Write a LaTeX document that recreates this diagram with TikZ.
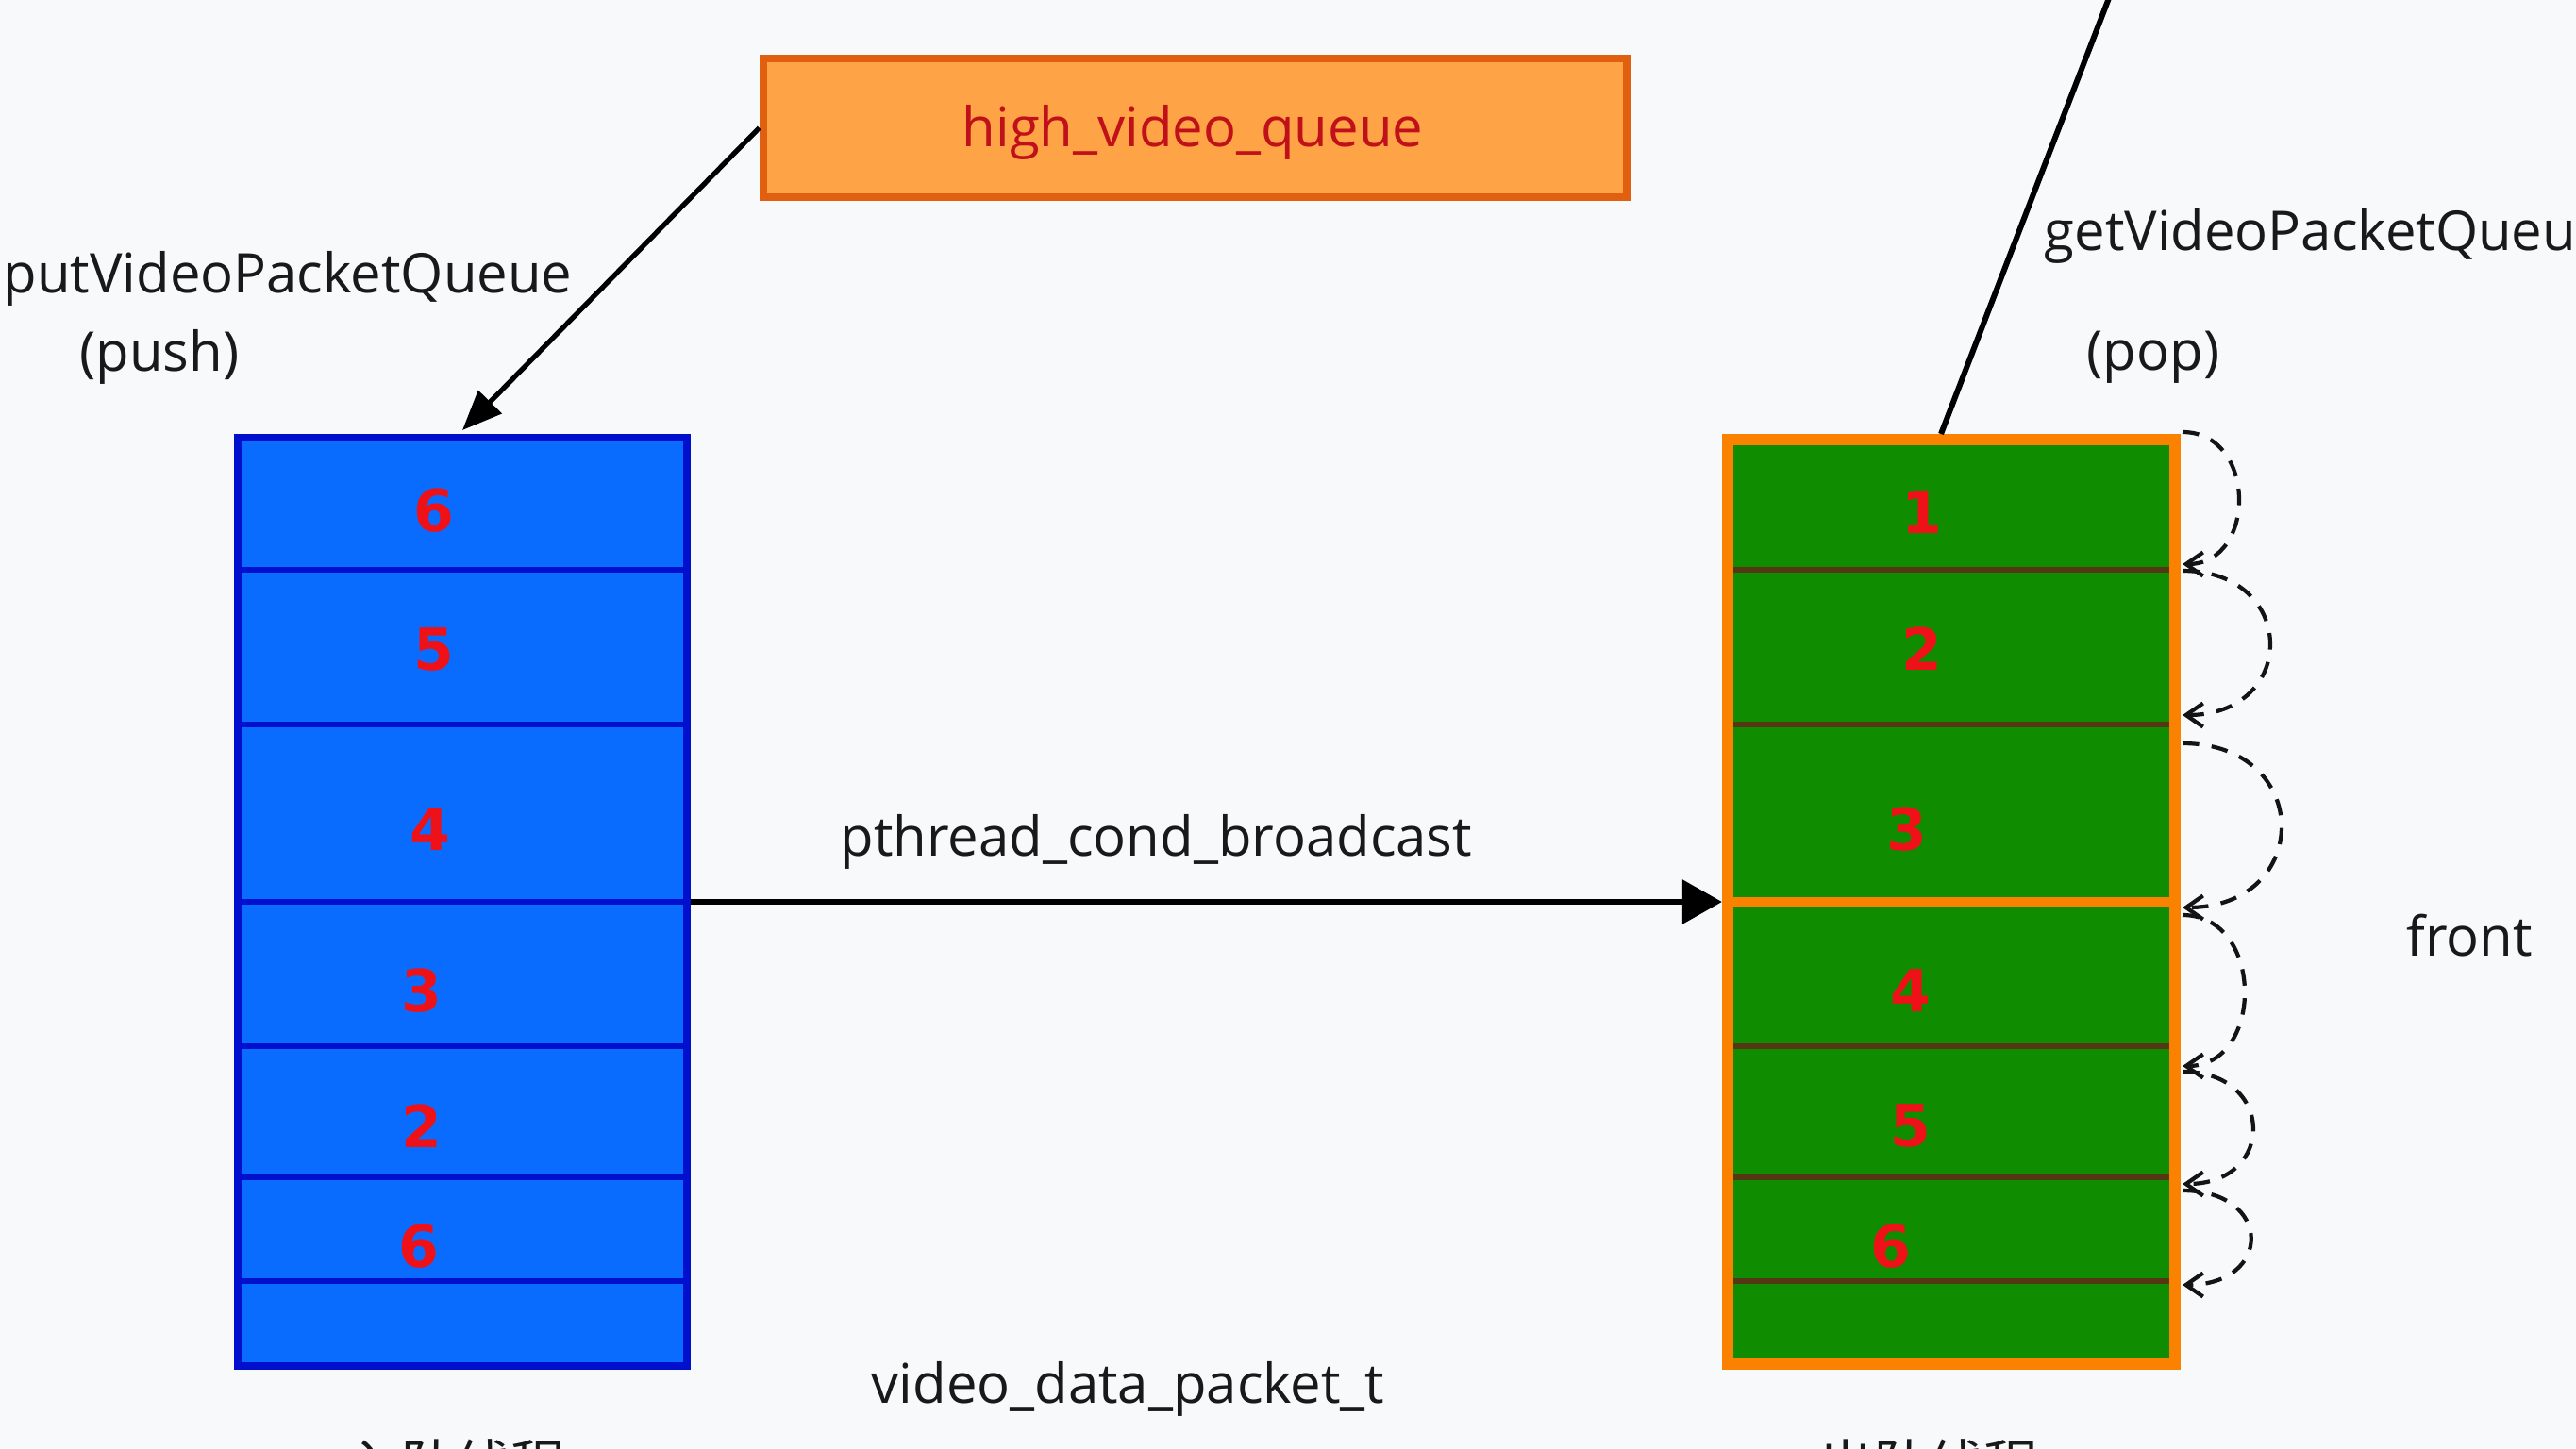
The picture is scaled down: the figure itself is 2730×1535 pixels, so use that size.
\documentclass[tikz,border=0pt]{standalone}
\usepackage{fontspec}
\setmainfont{Open Sans}
\newfontfamily\numfont{DejaVu Sans}
\newfontfamily\cjkfont{Noto Sans CJK SC}
\usetikzlibrary{arrows.meta}
\definecolor{bg}{RGB}{248,249,250}
\definecolor{txt}{RGB}{25,25,25}
\definecolor{hvqfill}{RGB}{255,163,71}
\definecolor{hvqdraw}{RGB}{224,96,16}
\definecolor{hvqtext}{RGB}{192,16,26}
\definecolor{bluefill}{RGB}{10,108,255}
\definecolor{bluedraw}{RGB}{0,16,204}
\definecolor{greenfill}{RGB}{16,140,0}
\definecolor{greendraw}{RGB}{250,130,0}
\definecolor{browndiv}{RGB}{85,55,20}
\definecolor{numred}{RGB}{238,18,24}
\definecolor{dashcol}{RGB}{20,20,20}
\tikzset{
  lbl/.style={font=\fontsize{16.5}{20}\selectfont, text=txt, inner sep=0pt},
  cjklbl/.style={font=\cjkfont\fontsize{16.5}{20}\selectfont, text=txt, inner sep=0pt},
  num/.style={font=\numfont\bfseries\fontsize{17.5}{20}\selectfont, text=numred, inner sep=0pt},
  hvqbox/.style={draw=hvqdraw, fill=hvqfill, line width=2.3pt, minimum width=9.15cm, minimum height=1.47cm, inner sep=0pt},
  bluebox/.style={draw=bluedraw, fill=bluefill, line width=2.3pt, minimum width=4.76cm, minimum height=9.84cm, inner sep=0pt},
  greenbox/.style={draw=greendraw, fill=greenfill, line width=3.4pt, minimum width=4.74cm, minimum height=9.8cm, inner sep=0pt},
  bluediv/.style={draw=bluedraw, line width=1.7pt},
  greendiv/.style={draw=browndiv, line width=1.8pt},
  conn/.style={draw=black, line width=1.5pt},
  loopline/.style={draw=dashcol, line width=1.2pt, dash pattern=on 5pt off 3.8pt, -{Straight Barb[length=0.18cm,width=0.25cm]}}
}
\begin{document}
\begin{tikzpicture}[x=0.01cm,y=-0.01cm]
\useasboundingbox (0,0) rectangle (2730,1535);
\fill[bg] (0,0) rectangle (2730,1535);

% top queue box
\node[hvqbox] (hvq) at (1266.5,135.5) {};
\node[font=\fontsize{16.5}{20}\selectfont, text=hvqtext, inner sep=0pt, anchor=base] (hvqtxt) at (1264,155) {high\_video\_queue};

% left (blue) queue
\node[bluebox] (bq) at (490,956) {};
\foreach \y in {604,768,956,1109,1248,1358}
  \draw[bluediv] (252,\y) -- (730,\y);
\node[num] (b1) at (460,541) {6};
\node[num] (b2) at (460,688) {5};
\node[num] (b3) at (456,879) {4};
\node[num] (b4) at (447,1050) {3};
\node[num] (b5) at (447,1194) {2};
\node[num] (b6) at (444,1321) {6};

% right (green) queue
\node[greenbox] (gq) at (2068,956) {};
\foreach \y in {604,768,1109,1248,1358}
  \draw[greendiv] (1837,\y) -- (2299,\y);
\draw[draw=greendraw, line width=2.6pt] (1831,956) -- (2305,956);
\node[num] (g1) at (2037,543) {1};
\node[num] (g2) at (2037,688) {2};
\node[num] (g3) at (2021,879) {3};
\node[num] (g4) at (2025,1050) {4};
\node[num] (g5) at (2025,1193) {5};
\node[num] (g6) at (2004,1321) {6};

% dashed loops on the right of the green queue
\draw[loopline] (2313,458) .. controls (2392,458) and (2392,598) .. (2313,598);
\draw[loopline] (2313,605) .. controls (2436,605) and (2436,758) .. (2313,758);
\draw[loopline] (2313,788) .. controls (2452,788) and (2452,962) .. (2313,962);
\draw[loopline] (2313,970) .. controls (2400,970) and (2400,1130) .. (2313,1130);
\draw[loopline] (2313,1136) .. controls (2412,1136) and (2412,1255) .. (2313,1255);
\draw[loopline] (2313,1262) .. controls (2409,1262) and (2409,1362) .. (2313,1362);

% connectors
\coordinate (pushtip) at (490,456);
\draw[conn, -{Triangle[length=0.42cm,width=0.34cm]}] (hvq.west) -- (pushtip);
\draw[conn, line width=1.7pt, -{Triangle[length=0.42cm,width=0.46cm]}] (bq.east) -- (gq.west);
\coordinate (popstart) at (2057,460);
\coordinate (popend) at (2240,-15);
\draw[conn, line width=1.7pt] (popstart) -- (popend);

% labels
\node[lbl, anchor=base west] (putlbl) at (3,310) {putVideoPacketQueue};
\node[lbl, anchor=base] (pushlbl) at (169,393) {(push)};
\node[lbl, anchor=base west] (getlbl) at (2166,265) {getVideoPacketQueue};
\node[lbl, anchor=base] (poplbl) at (2282,392) {(pop)};
\node[lbl, anchor=base west] (bcast) at (890,907) {pthread\_cond\_broadcast};
\node[lbl, anchor=base west] (vdpt) at (923,1487) {video\_data\_packet\_t};
\node[lbl, anchor=base] (front) at (2617,1013) {front};
\node[cjklbl, anchor=base] (enq) at (483,1574) {入队线程};
\node[cjklbl, anchor=base] (deq) at (2044,1574) {出队线程};
\end{tikzpicture}
\end{document}
